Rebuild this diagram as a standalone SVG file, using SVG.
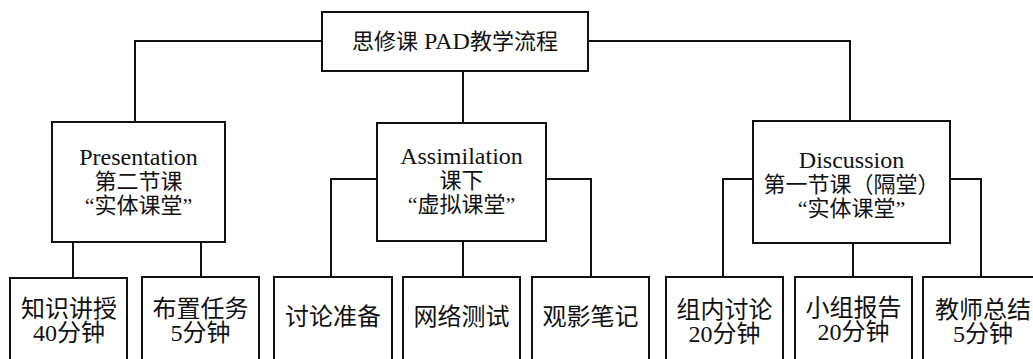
<svg xmlns="http://www.w3.org/2000/svg" width="1033" height="359" viewBox="0 0 1033 359">
<style>
.box{fill:#fff;stroke:#111;stroke-width:2}
.ln{fill:none;stroke:#111;stroke-width:2}
text{font-family:"Liberation Serif","Noto Sans CJK SC",serif;fill:#111;text-anchor:middle}
.en{font-size:24px}
.zh{font-size:22px}
.b{font-size:24px}
</style>
<rect width="1033" height="359" fill="#fff"/>
<g id="connectors">
<polyline class="ln" points="322,41 135,41 135,122"/>
<polyline class="ln" points="588,41 850,41 850,121"/>
<line class="ln" x1="463" y1="71" x2="463" y2="123"/>
<line class="ln" x1="73" y1="242" x2="73" y2="278"/>
<line class="ln" x1="201" y1="242" x2="201" y2="277"/>
<polyline class="ln" points="377,179 331,179 331,277"/>
<line class="ln" x1="463" y1="241" x2="463" y2="277"/>
<polyline class="ln" points="546,179 591,179 591,277"/>
<polyline class="ln" points="753,179 723,179 723,277"/>
<line class="ln" x1="853" y1="243" x2="853" y2="277"/>
<polyline class="ln" points="950,179 981,179 981,277"/>
</g>
<g id="root">
<rect class="box" x="322" y="12" width="266" height="59"/>
<text x="455" y="49" class="zh">思修课<tspan class="en"> PAD</tspan>教学流程</text>
</g>
<g id="presentation">
<rect class="box" x="52" y="122" width="173" height="120"/>
<text x="138.5" y="165" class="en">Presentation</text>
<text x="138.5" y="189" class="zh">第二节课</text>
<text x="138.5" y="213" class="zh">“实体课堂”</text>
</g>
<g id="assimilation">
<rect class="box" x="377" y="123" width="169" height="118"/>
<text x="461.5" y="164" class="en">Assimilation</text>
<text x="461.5" y="188" class="zh">课下</text>
<text x="461.5" y="212" class="zh">“虚拟课堂”</text>
</g>
<g id="discussion">
<rect class="box" x="753" y="121" width="197" height="122"/>
<text x="851.5" y="168" class="en">Discussion</text>
<text x="851.5" y="192" class="zh">第一节课（隔堂）</text>
<text x="851.5" y="216" class="zh">“实体课堂”</text>
</g>
<g id="n1">
<rect class="box" x="10" y="278" width="117" height="100"/>
<text x="69" y="317" class="b">知识讲授</text>
<text x="69" y="341" class="b">40分钟</text>
</g>
<g id="n2">
<rect class="box" x="142" y="277" width="117" height="100"/>
<text x="200.5" y="317" class="b">布置任务</text>
<text x="200.5" y="341" class="b">5分钟</text>
</g>
<g id="n3">
<rect class="box" x="274" y="277" width="118" height="100"/>
<text x="333" y="325" class="b">讨论准备</text>
</g>
<g id="n4">
<rect class="box" x="403" y="277" width="117" height="100"/>
<text x="461.5" y="325" class="b">网络测试</text>
</g>
<g id="n5">
<rect class="box" x="532" y="277" width="117" height="100"/>
<text x="590.5" y="325" class="b">观影笔记</text>
</g>
<g id="n6">
<rect class="box" x="666" y="277" width="117" height="100"/>
<text x="724.5" y="318" class="b">组内讨论</text>
<text x="724.5" y="342" class="b">20分钟</text>
</g>
<g id="n7">
<rect class="box" x="795" y="277" width="117" height="100"/>
<text x="853.5" y="316" class="b">小组报告</text>
<text x="853.5" y="340" class="b">20分钟</text>
</g>
<g id="n8">
<rect class="box" x="923" y="277" width="120" height="100"/>
<text x="983" y="318" class="b">教师总结</text>
<text x="983" y="342" class="b">5分钟</text>
</g>
</svg>
